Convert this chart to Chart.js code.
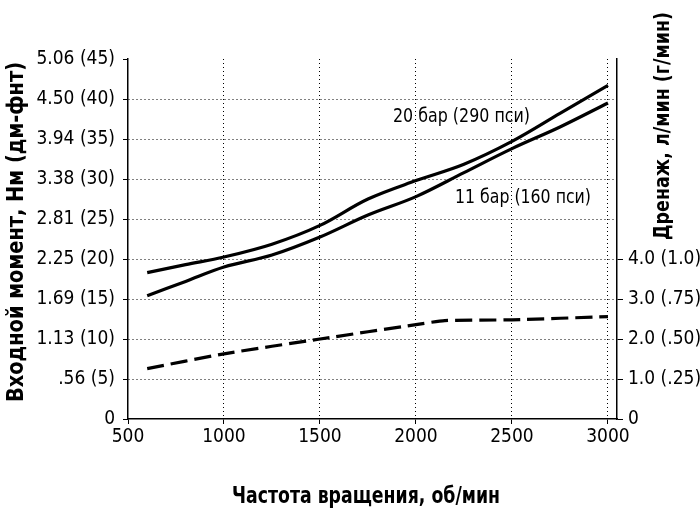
<!DOCTYPE html>
<html>
<head>
<meta charset="utf-8">
<script src="https://cdn.jsdelivr.net/npm/chart.js@4.4.1/dist/chart.umd.min.js"></script>
<style>
  html, body { margin: 0; padding: 0; background: #fff; }
  #wrap { width: 700px; height: 514px; }
</style>
</head>
<body>
<div id="wrap"><canvas id="torqueChart"></canvas></div>
<script>
// values
const rpm = [600, 800, 1000, 1250, 1500, 1750, 2000, 2250, 2500, 2750, 3000];
const torque20bar = [18.3, 19.3, 20.25, 21.85, 24.2, 27.5, 29.8, 31.85, 34.7, 38.2, 41.7];
const torque11bar = [15.4, 17.2, 19.0, 20.5, 22.75, 25.5, 27.8, 30.8, 33.8, 36.5, 39.5];
const drainRpm = [600, 1000, 1500, 2000, 2150, 2500, 3000];
const drainFlow = [1.26, 1.63, 2.0, 2.36, 2.46, 2.48, 2.56];

const xTicks = [500, 1000, 1500, 2000, 2500, 3000];
const torqueTicks = [0, 5, 10, 15, 20, 25, 30, 35, 40, 45];
const torqueLabels = ['0', '.56 (5)', '1.13 (10)', '1.69 (15)', '2.25 (20)', '2.81 (25)', '3.38 (30)', '3.94 (35)', '4.50 (40)', '5.06 (45)'];
const drainTicks = [0, 1, 2, 3, 4];
const drainLabels = ['0', '1.0 (.25)', '2.0 (.50)', '3.0 (.75)', '4.0 (1.0)'];

const label20 = '20 бар (290 пси)';
const label11 = '11 бар (160 пси)';
const xTitle = 'Частота вращения, об/мин';
const yTitle = 'Входной момент, Нм (дм-фнт)';
const y2Title = 'Дренаж, л/мин (г/мин)';

const FAMILY = "'Liberation Sans Narrow', 'DejaVu Sans Condensed', 'Liberation Sans', sans-serif";
const tickFont = { family: FAMILY, size: 19 };

function pairs(xs, ys) {
    return xs.map((x, i) => ({ x: x, y: ys[i] }));
}

// draws text squeezed to a given width (the original uses a condensed face)
function fitText(ctx, text, cx, cy, w, font, angle) {
    ctx.save();
    ctx.font = font;
    const m = ctx.measureText(text).width;
    ctx.translate(cx, cy);
    ctx.rotate(angle || 0);
    ctx.scale(w / m, 1);
    ctx.fillStyle = '#000';
    ctx.textAlign = 'center';
    ctx.textBaseline = 'middle';
    ctx.fillText(text, 0, 0);
    ctx.restore();
}

const textPlugin = {
    id: 'texts',
    afterDraw(chart) {
        const ctx = chart.ctx;
        fitText(ctx, label20, 461.5, 117, 137, `20px ${FAMILY}`);
        fitText(ctx, label11, 523, 198, 136, `20px ${FAMILY}`);
        fitText(ctx, xTitle, 366, 497, 268, `bold 23px ${FAMILY}`);
        fitText(ctx, yTitle, 17, 232, 340, `bold 23px ${FAMILY}`, -Math.PI / 2);
        fitText(ctx, y2Title, 663, 126, 228, `bold 22px ${FAMILY}`, -Math.PI / 2);
    }
};

const lineStyle = {
    borderColor: '#000',
    borderWidth: 3.2,
    pointRadius: 0,
    fill: false,
    tension: 0.35
};

new Chart(document.getElementById('torqueChart'), {
    type: 'line',
    data: {
        datasets: [
            Object.assign({ label: label20, data: pairs(rpm, torque20bar), yAxisID: 'y' }, lineStyle),
            Object.assign({ label: label11, data: pairs(rpm, torque11bar), yAxisID: 'y' }, lineStyle),
            Object.assign({ label: y2Title, data: pairs(drainRpm, drainFlow), yAxisID: 'yR', borderDash: [17, 7], borderWidth: 3 }, lineStyle, { tension: 0.2 })
        ]
    },
    options: {
        responsive: true,
        maintainAspectRatio: false,
        animation: false,
        layout: { padding: { top: 59 } },
        plugins: {
            legend: { display: false },
            tooltip: { enabled: false }
        },
        scales: {
            x: {
                type: 'linear',
                min: 500,
                max: 3047,
                afterBuildTicks: s => { s.ticks = xTicks.map(v => ({ value: v })); },
                afterFit: s => { s.height = 95; },
                ticks: { font: tickFont, color: '#000', padding: 2, maxRotation: 0, callback: v => String(v) },
                grid: {
                    color: c => (c.tick && c.tick.value === 500) ? 'rgba(0,0,0,0)' : '#000',
                    tickColor: '#000',
                    lineWidth: 1,
                    tickLength: 5
                },
                border: { color: '#000', width: 1.5, dash: [1, 3] }
            },
            y: {
                position: 'left',
                min: 0,
                max: 45,
                afterBuildTicks: s => { s.ticks = torqueTicks.map(v => ({ value: v })); },
                afterFit: s => { s.width = 128; },
                ticks: { font: tickFont, color: '#000', padding: 8, callback: (v, i) => torqueLabels[i] },
                grid: {
                    color: c => (c.tick && (c.tick.value === 0 || c.tick.value === 45)) ? 'rgba(0,0,0,0)' : '#000',
                    tickColor: '#000',
                    lineWidth: 1,
                    tickLength: 5
                },
                border: { color: '#000', width: 1.5, dash: [1, 3] }
            },
            yR: {
                position: 'right',
                min: 0,
                max: 9,
                afterBuildTicks: s => { s.ticks = drainTicks.map(v => ({ value: v })); },
                afterFit: s => { s.width = 83; },
                ticks: { font: tickFont, color: '#000', padding: 5, callback: (v, i) => drainLabels[i] },
                grid: { drawOnChartArea: false, color: '#000', tickLength: 6 },
                border: { color: '#000', width: 1.5 }
            }
        }
    },
    plugins: [textPlugin]
});
</script>
</body>
</html>
